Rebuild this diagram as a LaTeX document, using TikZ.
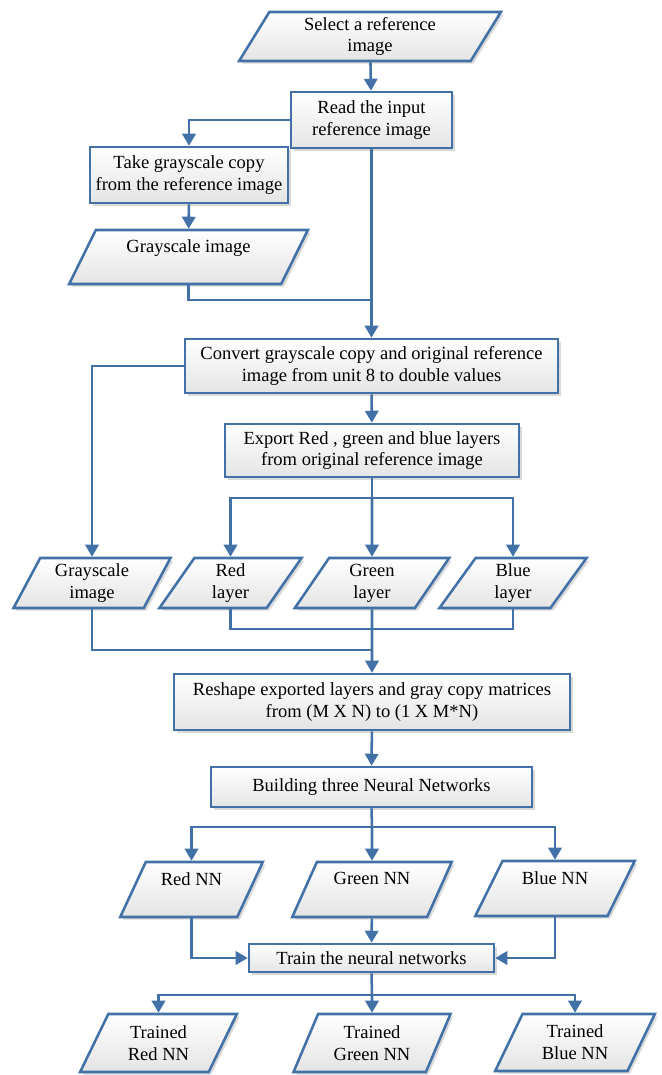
\documentclass[tikz,border=0pt]{standalone}
\usepackage{fontspec}
\setmainfont{Liberation Serif}
\usetikzlibrary{shapes.geometric,arrows.meta,shadows}
\definecolor{FlowBlue}{RGB}{65,113,167}
\definecolor{BoxGray}{RGB}{228,228,228}
\newcommand\flowfont{\fontsize{13.9}{16.3}\selectfont}

\begin{document}
\begin{tikzpicture}[x=0.75pt,y=-0.75pt,>={Triangle[width=10pt,length=9pt]},
    box/.style={draw=FlowBlue,line width=1.9pt,top color=white,bottom color=BoxGray,
                drop shadow={shadow xshift=2pt,shadow yshift=-2pt,opacity=.3},
                align=center,font=\flowfont,inner sep=2pt},
    proc/.style 2 args={box,rectangle,minimum width=0.75pt*#1,minimum height=0.75pt*#2},
    data/.style 2 args={box,trapezium,trapezium left angle=65,trapezium right angle=115,
                 trapezium stretches=true,minimum width=0.75pt*#1,minimum height=0.75pt*#2},
    ar/.style={->,line width=1.9pt,draw=FlowBlue},
    ln/.style={line width=1.9pt,draw=FlowBlue}]
  \useasboundingbox (0,0) rectangle (661,1075);
  % input and first split
  \node[data={262}{49}] (sel) at (370,36.5) {Select a reference\\image};
  \node[proc={161}{56}] (read) at (371.5,120) {Read the input\\reference image};
  \node[proc={198}{56}] (take) at (189,175) {Take grayscale copy\\from the reference image};
  \node[data={239}{54}] (gimg1) at (188.5,257) {Grayscale image\\\mbox{}};
  \node[proc={373}{54}] (conv) at (371.5,366) {Convert grayscale copy and original reference\\image from unit 8 to double values};
  \node[proc={294}{53}] (expo) at (372,450.5) {Export Red , green and blue layers\\from original reference image};
  % layers
  \node[data={158}{50}] (gimg2) at (92,583) {Grayscale\\image};
  \node[data={143}{50}] (red) at (230.5,583) {Red\\layer};
  \node[data={155}{50}] (green) at (372,583) {Green\\layer};
  \node[data={148}{50}] (blue) at (513,583) {Blue\\layer};
  \node[proc={396}{56}] (resh) at (372,702) {Reshape exported layers and gray copy matrices\\from (M X N) to (1 X M*N)};
  \node[proc={321}{40}] (build) at (371.5,787) {Building three Neural Networks};
  % networks
  \node[data={143}{55}] (rnn) at (191.5,889.5) {Red NN\\\mbox{}};
  \node[data={160}{55}] (gnn) at (372,889.5) {Green NN\\\mbox{}};
  \node[data={160}{55}] (bnn) at (555,888.5) {Blue NN\\\mbox{}};
  \node[proc={245}{28}] (train) at (371.5,958) {Train the neural networks};
  \node[data={157}{58}] (trnn) at (158.5,1043) {Trained\\Red NN};
  \node[data={158}{58}] (tgnn) at (372,1043) {Trained\\Green NN};
  \node[data={160}{57}] (tbnn) at (575,1042.5) {Trained\\Blue NN};
  % junctions
  \coordinate (j1) at (372,300);
  \coordinate (j2) at (372,498);
  \coordinate (j3) at (372,629);
  \coordinate (j4) at (372,650);
  \coordinate (j5) at (372,827);
  \coordinate (j6) at (372,995);
  % connectors
  \draw[ar] (sel) -- (read);
  \draw[ar] (read.west) -| (take.north);
  \draw[ar] (take) -- (gimg1);
  \draw[ln] (gimg1.south) |- (j1);
  \draw[ar] (read.south) -- (conv.north);
  \draw[ar] (conv.west) -| (gimg2.north);
  \draw[ar] (conv) -- (expo);
  \draw[ln] (expo.south) -- (j2);
  \draw[ar] (j2) -| (red.north);
  \draw[ar] (j2) -- (green.north);
  \draw[ar] (j2) -| (blue.north);
  \draw[ln] (red.south) |- (j3) -| (blue.south);
  \draw[ln] (gimg2.south) |- (j4);
  \draw[ar] (green.south) -- (resh.north);
  \draw[ar] (resh) -- (build);
  \draw[ln] (build.south) -- (j5);
  \foreach \n in {rnn,bnn} \draw[ar] (j5) -| (\n.north);
  \draw[ar] (j5) -- (gnn.north);
  \draw[ar] (rnn.south) |- (train.west);
  \draw[ar] (bnn.south) |- (train.east);
  \draw[ar] (gnn) -- (train);
  \draw[ln] (train.south) -- (j6);
  \foreach \n in {trnn,tbnn} \draw[ar] (j6) -| (\n.north);
  \draw[ar] (j6) -- (tgnn.north);
\end{tikzpicture}
\end{document}
